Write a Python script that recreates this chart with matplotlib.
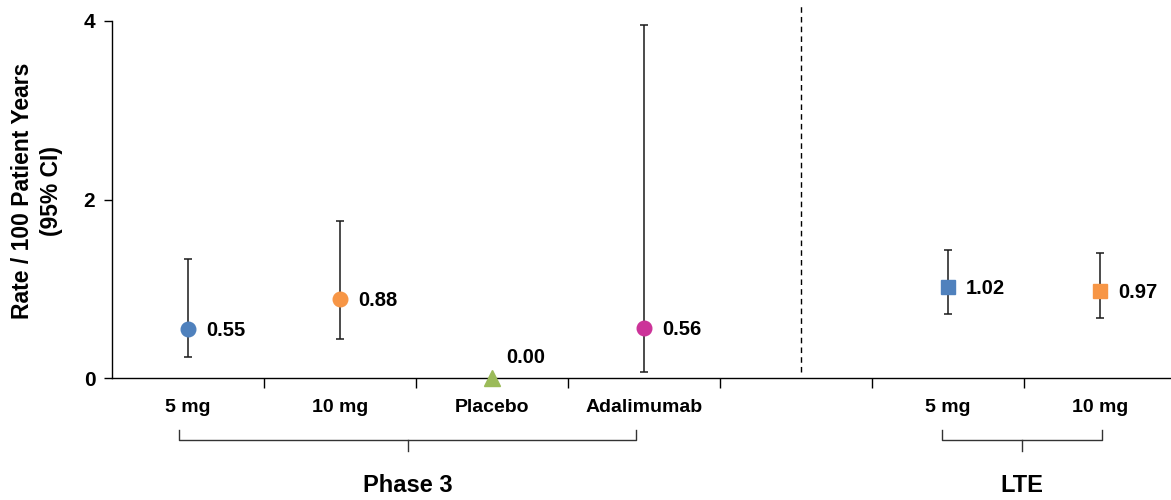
import matplotlib
matplotlib.use("Agg")
import matplotlib.pyplot as plt
import numpy as np

plt.rcParams['font.family'] = ['Liberation Sans', 'DejaVu Sans']
plt.rcParams['font.weight'] = 'bold'

# data
categories = ["5 mg", "10 mg", "Placebo", "Adalimumab", "", "5 mg", "10 mg"]
rates = [0.55, 0.88, 0.00, 0.56, 1.02, 0.97]
ci_low = [0.23, 0.44, 0.00, 0.07, 0.72, 0.67]
ci_high = [1.33, 1.76, 0.00, 3.96, 1.43, 1.40]
slots = [0, 1, 2, 3, 5, 6]  # category slot of each point
markers = ["o", "o", "^", "o", "s", "s"]
colors = ["#4F81BD", "#F79646", "#9BBB59", "#CC3399", "#4F81BD", "#F79646"]
groups = [("Phase 3", 0, 3, -0.06, -0.05), ("LTE", 5, 6, -0.04, 0.01)]
divider = 4.535

fig = plt.figure(figsize=(11.71, 5.0), dpi=100)
ax = fig.add_axes([0.0956, 0.244, 0.9044, 0.714])

xs = np.array(slots) + 0.5
for i in range(len(rates)):
    if ci_high[i] > ci_low[i]:
        ax.errorbar(xs[i], rates[i],
                    yerr=[[rates[i] - ci_low[i]], [ci_high[i] - rates[i]]],
                    fmt="none", ecolor="#1a1a1a", elinewidth=1.1,
                    capsize=3.2, capthick=1.1, zorder=2)
    ms = 10.5 if markers[i] != "^" else 11
    ax.plot(xs[i], rates[i], marker=markers[i], color=colors[i], ms=ms,
            linestyle="none", zorder=3, clip_on=False)
    if rates[i] == 0:
        off = (10, 14.5)
    else:
        off = (13, -1)
    ax.annotate("%.2f" % rates[i], (xs[i], rates[i]), xytext=off,
                textcoords="offset points", fontsize=14.5, fontweight="bold",
                va="center", ha="left")

# dashed divider between phase 3 and LTE
ax.plot([divider, divider], [0.07, 4.18], color="black", lw=1, ls=(0, (4, 3)),
        clip_on=False)

ax.set_xlim(0, 6.967)
ax.set_ylim(0, 4)
ax.set_yticks([0, 2, 4])
ax.set_yticklabels(["0", "2", "4"], fontsize=15, fontweight="bold")
ax.set_xticks(xs.tolist()[:4] + [4.5] + xs.tolist()[4:])
ax.set_xticklabels(categories, fontsize=14, fontweight="bold")
ax.tick_params(axis="x", which="major", length=0, pad=15)
ax.set_xticks(np.arange(1, 7), minor=True)
ax.tick_params(axis="x", which="minor", length=7, width=1, direction="out")
ax.tick_params(axis="y", length=6, width=1, direction="out", pad=6)

for s in ["top", "right"]:
    ax.spines[s].set_visible(False)
ax.spines["left"].set_linewidth(1)
ax.spines["bottom"].set_linewidth(1)

# y label placed by hand so both lines fit left of the ticks
fig.text(37 / 1171, 1 - 191 / 500, "Rate / 100 Patient Years\n(95% CI)",
         rotation=90, ha="center", va="center", fontsize=16.5,
         fontweight="bold", linespacing=1.3, multialignment="center")

# group braces under the category labels
y_top, y_bar, y_tip = -0.58, -0.695, -0.82
for name, first, last, d0, d1 in groups:
    x0 = first + 0.5 + d0
    x1 = last + 0.5 + d1
    xm = (x0 + x1) / 2
    ax.plot([x0, x0, x1, x1], [y_top, y_bar, y_bar, y_top], color="#333333",
            lw=1, clip_on=False, solid_joinstyle="round")
    ax.plot([xm, xm], [y_bar, y_tip], color="#333333", lw=1, clip_on=False)
    ax.text(xm, -1.2, name, ha="center", va="center", fontsize=17,
            fontweight="bold")

fig.savefig("out.png", dpi=100)
